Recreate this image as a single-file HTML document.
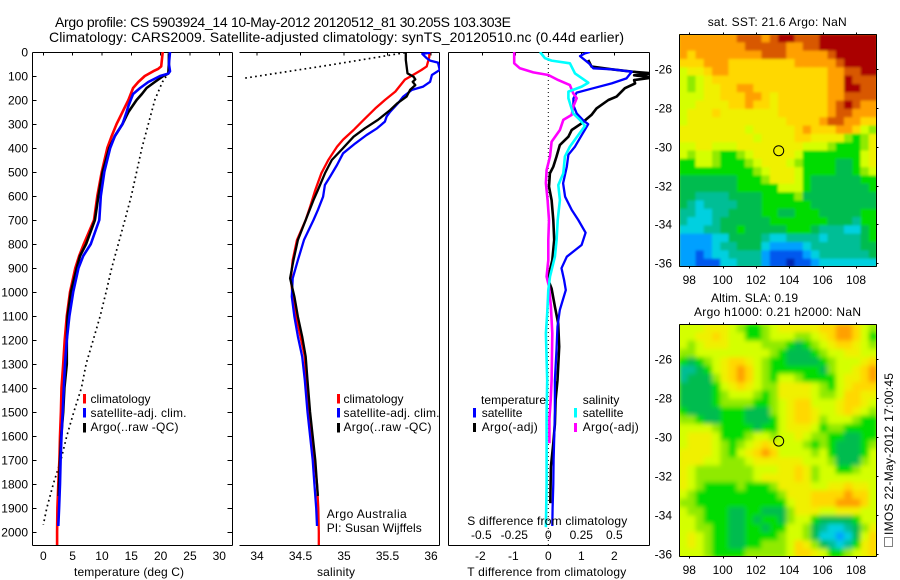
<!DOCTYPE html>
<html>
<head>
<meta charset="utf-8">
<title>Argo profile</title>
<style>
html,body{margin:0;padding:0;background:#fff;}
svg{display:block;}
text{font-family:"Liberation Sans",sans-serif;font-size:12px;fill:#000;}
.ttl{font-size:14px;}
</style>
</head>
<body>
<svg id="fig" xmlns="http://www.w3.org/2000/svg" width="900" height="580" viewBox="0 0 900 580">
<defs>
<clipPath id="c1"><rect x="32" y="52" width="200" height="493"/></clipPath>
<clipPath id="c2"><rect x="239" y="52" width="201" height="493"/></clipPath>
<clipPath id="c3"><rect x="448" y="52" width="201" height="493"/></clipPath>
<clipPath id="cm1"><rect x="679" y="34" width="198" height="233"/></clipPath>
<clipPath id="cm2"><rect x="679" y="324" width="198" height="233"/></clipPath>
<filter id="sstSoft"><feGaussianBlur stdDeviation="1.2"/></filter>
<filter id="slaSoft"><feGaussianBlur stdDeviation="2.4"/></filter>
</defs>
<text class="ttl" x="55" y="27" textLength="456">Argo profile: CS 5903924_14 10-May-2012 20120512_81 30.205S 103.303E</text>
<text class="ttl" x="49" y="42" textLength="575">Climatology: CARS2009. Satellite-adjusted climatology: synTS_20120510.nc (0.44d earlier)</text>

<g id="axes"></g>
<g id="p1" clip-path="url(#c1)"></g>
<g id="p2" clip-path="url(#c2)"></g>
<g id="p3" clip-path="url(#c3)"></g>
<g id="m1">
<rect x="679" y="34" width="198" height="233" fill="#e8f000"/>
<g clip-path="url(#cm1)"><g id="m1cells" filter="url(#sstSoft)"></g></g>
</g>
<g id="m2">
<rect x="679" y="324" width="198" height="233" fill="#d8ff00"/>
<g clip-path="url(#cm2)"><g id="m2cells" filter="url(#slaSoft)"></g></g>
</g>
<g id="frames"></g>

<g>
<rect x="83" y="394" width="3" height="9.5" fill="#f00"/>
<rect x="83" y="408" width="3" height="9.5" fill="#00f"/>
<rect x="83" y="423" width="3" height="9.5" fill="#000"/>
<text x="90.5" y="403">climatology</text>
<text x="90.5" y="417" textLength="96">satellite-adj. clim.</text>
<text x="90.5" y="431" textLength="88">Argo(..raw -QC)</text>
</g>
<g>
<rect x="337" y="394" width="3" height="9.5" fill="#f00"/>
<rect x="337" y="408" width="3" height="9.5" fill="#00f"/>
<rect x="337" y="423" width="3" height="9.5" fill="#000"/>
<text x="343.5" y="403">climatology</text>
<text x="343.5" y="417" textLength="96">satellite-adj. clim.</text>
<text x="343.5" y="431" textLength="88">Argo(..raw -QC)</text>
<text x="326.7" y="518" textLength="80">Argo Australia</text>
<text x="326.7" y="532" textLength="95">PI: Susan Wijffels</text>
</g>
<g>
<text x="481" y="404" textLength="65">temperature</text>
<text x="582.7" y="404">salinity</text>
<rect x="473" y="408" width="3" height="9.5" fill="#00f"/>
<rect x="473" y="423" width="3" height="9" fill="#000"/>
<rect x="574" y="408" width="3" height="9.5" fill="#0ff"/>
<rect x="574" y="423" width="3" height="9" fill="#f0f"/>
<text x="481.7" y="417">satellite</text>
<text x="481.7" y="431" textLength="56">Argo(-adj)</text>
<text x="582.7" y="417">satellite</text>
<text x="582.7" y="431" textLength="56">Argo(-adj)</text>
</g>

<text x="74" y="576" textLength="110">temperature (deg C)</text>
<text x="317" y="576" textLength="38">salinity</text>
<text x="467.3" y="576" textLength="159">T difference from climatology</text>
<text x="467.3" y="525" textLength="160">S difference from climatology</text>

<text x="707.7" y="26" textLength="139">sat. SST: 21.6 Argo: NaN</text>
<text x="711" y="302" textLength="87">Altim. SLA: 0.19</text>
<text x="694" y="316" textLength="167">Argo h1000: 0.21 h2000: NaN</text>

<rect x="884.5" y="537.5" width="8" height="9" fill="#fff" stroke="#000" stroke-width="1" stroke-dasharray="1 1"/>
<text transform="translate(893,535) rotate(-90)" textLength="162">IMOS 22-May-2012 17:00:45</text>
</svg>

<script>
/* ---------- temperature profile data ---------- */
const tempClimDepth = [0,60,70,80,100,125,150,200,250,300,350,400,500,600,700,800,850,900,1000,1100,1200,1300,1400,1500,1600,1700,1800,1900,2000,2054];
const tempClimValues = [20.35,20.1,19.6,18.75,17.3,16.2,15.3,14.5,13.5,12.5,11.65,10.9,9.95,9.2,8.64,6.9,6.1,5.45,4.55,4.0,3.65,3.4,3.1,3.0,2.85,2.75,2.55,2.4,2.35,2.35];
const tempSatDepth = [0,50,80,90,100,125,150,175,200,225,250,300,350,400,500,600,700,800,850,900,1000,1100,1200,1300,1400,1500,1600,1700,1800,1900,1975];
const tempSatValues = [21.6,21.4,21.6,21.3,19.9,17.9,16.5,15.3,14.9,14.5,14.2,13.5,12.2,11.4,10.4,9.8,9.55,8.1,6.8,6.0,5.1,4.45,4.0,3.7,3.5,3.3,3.1,2.95,2.85,2.7,2.55];
const tempArgoDepth = [5,50,90,100,125,150,175,200,250,300,350,400,500,600,700,800,850,900,1000,1100,1200,1300,1400,1500,1600,1700,1800,1850];
const tempArgoValues = [21.4,21.4,21.3,20.45,19,17.6,16.8,15.9,14.5,13.5,12.2,11.25,10.1,9.4,8.8,7.3,6.25,5.7,4.7,4.15,4.0,4.0,3.6,3.4,3.05,2.85,2.7,2.65];
const tempRawDepth = [85,125,200,400,600,700,900,1000,1100,1200,1300,1400,1500,1600,1700,1800,1900,1970];
const tempRawValues = [21.4,20.3,19,16.8,15,13.9,11.65,10.7,9.7,8.5,7.3,6.5,5.2,4,3,1.7,0.6,0];

/* ---------- salinity profile data ---------- */
const salClimDepth = [0,20,60,75,90,115,165,200,235,285,325,365,395,450,505,575,645,700,783,867,943,1019,1103,1186,1269,1400,1500,1600,1700,1800,1900,2000,2054];
const salClimValues = [35.98,35.98,35.95,35.89,35.82,35.70,35.59,35.47,35.36,35.22,35.11,34.99,34.92,34.82,34.74,34.67,34.61,34.56,34.46,34.41,34.39,34.41,34.45,34.5,34.55,34.57,34.60,34.63,34.66,34.69,34.705,34.71,34.71];
const salSatDepth = [3,8,26,36,44,75,96,124,144,158,186,214,249,269,290,318,346,381,422,471,519,554,603,658,700,783,867,943,1019,1103,1186,1269,1367,1500,1600,1700,1800,1900,1975];
const salSatValues = [35.99,35.90,35.95,35.99,36.08,36.10,36.01,35.99,35.91,35.78,35.68,35.62,35.53,35.49,35.47,35.38,35.26,35.13,34.99,34.92,34.84,34.78,34.76,34.70,34.65,34.54,34.47,34.41,34.40,34.43,34.47,34.52,34.55,34.58,34.61,34.64,34.66,34.68,34.69];
const salArgoDepth = [3,33,89,103,114,124,138,158,186,214,242,283,318,353,408,450,506,575,617,700,783,867,943,1019,1103,1186,1269,1367,1500,1600,1700,1800,1850];
const salArgoValues = [35.71,35.71,35.73,35.80,35.82,35.79,35.82,35.76,35.72,35.61,35.53,35.39,35.24,35.11,34.97,34.86,34.78,34.70,34.65,34.56,34.47,34.42,34.38,34.43,34.47,34.52,34.56,34.58,34.61,34.64,34.67,34.69,34.70];
const salRawDepth = [3,54,82,110];
const salRawValues = [35.7,34.84,34.34,33.84];

/* ---------- difference profile data ---------- */
const diffTempSatDepth = [0,6,17,47,68,72,82,110,131,153,169,194,222,256,285,301,347,394,428,478,547,603,658,700,753,804,853,901,950,992,1075,1144,1242,1367,1500,1700,1800,1900,1975];
const diffTempSatValues = [1.26,1.11,0.96,1.23,1.36,1.92,2.53,2.37,1.92,1.31,0.86,0.76,0.76,0.86,1.06,1.21,1.01,0.81,0.61,0.56,0.45,0.51,0.71,0.91,1.13,1.01,0.56,0.40,0.48,0.53,0.35,0.28,0.25,0.20,0.20,0.16,0.15,0.13,0.12];
const diffTempArgoDepth = [33,61,72,82,89,97,106,117,131,151,186,200,235,262,297,325,353,388,436,478,506,561,617,700,783,867,915,950,986,1061,1131,1228,1367,1450,1550,1630,1728,1880];
const diffTempArgoValues = [1.21,1.31,1.92,2.55,3.2,2.6,3.2,2.6,2.63,2.32,2.07,1.82,1.46,1.31,1.01,0.71,0.61,0.35,0.25,0.15,0.05,0.02,0.10,0.15,0.18,0.12,0.04,0,0.10,0.20,0.30,0.33,0.28,0.22,0.20,0.15,0.08,0.06];
const diffSalSatDepth = [0,26,36,47,89,128,144,165,193,228,256,283,308,346,394,436,506,554,617,700,783,853,936,992,1089,1172,1367,1500,1650,1800,1980];
const diffSalSatValues = [-0.063,-0.025,0.025,0.164,0.202,0.303,0.253,0.152,0.152,0.172,0.189,0.24,0.278,0.227,0.164,0.126,0.114,0.076,0.088,0.071,0.063,0.05,0.013,0,-0.008,-0.018,-0.008,-0.013,-0.013,-0.013,-0.018];
const diffSalArgoDepth = [0,47,68,85,96,117,138,172,193,228,262,283,325,374,436,492,547,617,700,783,867,936,978,1061,1172,1367,1450,1530,1630];
const diffSalArgoValues = [-0.258,-0.258,-0.215,-0.114,0,0.076,0.164,0.189,0.215,0.189,0.177,0.114,0.088,0.025,0.013,-0.013,-0.018,-0.005,0.005,0,0,-0.013,0.005,0.02,0.03,0.025,0.018,0.008,0.008];

/* ---------- tick labels ---------- */
const depthTicks = [0,100,200,300,400,500,600,700,800,900,1000,1100,1200,1300,1400,1500,1600,1700,1800,1900,2000];
const tempTicks = [0,5,10,15,20,25,30];
const salTicks = [34,34.5,35,35.5,36];
const tDiffTicks = [-2,-1,0,1,2];
const sDiffTicks = [-0.5,-0.25,0,0.25,0.5];
const sDiffTickLabels = ["-0.5","-0.25","0","0.25","0.5"];
const lonTicks = [98,100,102,104,106,108];
const latTicks = [26,28,30,32,34,36];
const argoLon = [103.303];
const argoLat = [30.205];

/* ---------- map values, colour level per grid cell ---------- */
const sstRows = [
[11,11,11,11,11,11,11,12,12,12,11,12,13,13,12,12,12,13,13,13,13,13,13,13],
[11,11,11,11,11,11,11,11,12,12,12,12,12,11,11,12,12,13,13,13,13,13,13,13],
[11,10,11,11,11,11,11,11,11,11,12,12,12,11,11,11,11,11,12,13,13,13,13,13],
[10,10,10,11,11,11,10,10,10,10,10,10,10,10,11,11,11,11,11,12,13,13,13,13],
[8,9,9,10,11,11,10,10,10,10,10,10,10,10,10,10,10,10,11,11,12,12,13,13],
[8,7,8,9,10,10,10,10,10,10,10,10,10,10,10,10,10,10,11,11,13,12,12,12],
[8,7,8,9,9,10,10,11,11,10,10,10,10,10,10,10,10,10,11,11,13,13,12,12],
[8,8,8,9,9,10,10,10,11,11,10,9,10,10,10,10,10,10,11,11,12,12,12,12],
[8,8,9,9,9,9,10,10,11,10,10,9,10,10,10,10,10,10,11,12,13,12,11,11],
[8,9,9,9,10,9,9,9,9,9,9,9,10,10,10,10,10,10,11,12,12,11,11,11],
[8,9,9,9,9,9,9,9,9,9,9,9,9,10,10,10,10,11,12,12,11,11,10,10],
[9,9,9,9,9,9,9,9,8,9,9,9,9,9,10,11,10,10,10,11,11,10,8,7],
[9,9,9,9,9,9,9,9,9,8,9,9,9,9,10,10,9,9,9,9,7,6,7,9],
[8,8,9,9,8,8,8,9,9,9,9,9,9,9,9,8,8,8,7,6,6,6,7,9],
[8,7,8,8,7,6,6,7,8,9,9,9,9,9,8,6,6,6,6,6,6,6,8,9],
[6,6,8,8,7,6,6,6,7,8,9,9,9,8,7,6,6,6,6,5,5,6,8,9],
[6,6,6,6,6,6,6,6,6,7,8,9,9,9,8,6,6,6,6,5,5,6,7,8],
[5,5,5,5,5,5,5,6,6,6,7,9,9,9,8,6,5,5,5,5,5,5,6,6],
[5,5,5,5,5,5,5,6,6,6,6,6,8,8,8,6,5,5,5,5,5,5,5,6],
[5,5,4,4,4,4,5,5,5,5,6,6,6,6,7,5,5,5,5,5,5,5,5,5],
[5,4,3,4,4,4,4,5,5,5,6,6,6,6,6,6,5,5,5,5,5,5,5,5],
[4,4,3,3,4,4,5,5,5,5,6,6,5,5,6,6,6,5,5,5,5,5,6,6],
[4,3,3,3,4,5,5,5,5,5,5,6,6,6,6,6,6,6,5,5,5,4,6,6],
[3,3,3,4,4,5,5,6,5,5,5,5,5,6,6,6,5,4,4,4,3,3,5,6],
[2,2,2,2,3,3,5,5,5,5,4,3,3,4,4,4,4,3,4,4,4,4,5,6],
[2,2,2,2,3,4,4,5,5,5,3,2,2,2,2,3,4,4,4,4,4,4,5,5],
[2,2,1,2,3,3,4,4,4,4,2,1,1,1,1,2,3,4,4,4,4,4,4,5],
[2,2,1,1,1,3,3,4,4,4,2,1,1,0,1,1,2,3,3,3,3,3,3,3]
];
const slaRows = [
[8,8,8,9,9,9,8,7,6,6,7,8,9,9,9,9,9,10,10,11,11,10,8,7],
[8,8,9,9,10,9,8,8,6,6,7,8,8,8,7,7,8,9,10,11,11,10,8,6],
[8,7,8,9,9,9,8,8,8,8,7,7,7,6,5,6,7,8,9,10,10,9,8,7],
[7,7,8,8,8,8,8,8,8,8,8,7,6,5,5,5,6,7,8,8,9,9,8,8],
[6,5,6,7,8,9,10,10,9,8,7,6,6,5,5,5,5,6,7,8,8,8,9,10],
[4,4,5,6,8,9,10,11,10,8,7,6,6,6,6,6,6,5,7,8,8,9,10,11],
[4,5,5,5,7,9,10,11,10,8,7,6,8,8,7,6,6,6,6,8,9,9,10,11],
[5,5,5,5,6,8,9,10,9,8,7,7,9,9,9,9,8,7,6,8,9,10,10,10],
[5,5,5,5,6,7,8,8,8,7,6,7,9,9,9,9,8,7,7,8,10,10,9,9],
[5,5,5,5,6,7,7,7,7,6,6,7,8,9,10,10,8,8,8,9,10,10,9,8],
[6,5,5,5,5,6,6,6,5,5,5,7,8,9,10,10,9,8,8,9,10,9,8,7],
[7,7,6,5,5,6,6,6,5,5,5,6,8,9,10,10,9,7,8,8,8,7,6,6],
[8,8,8,8,7,6,6,6,6,5,6,6,8,9,9,9,8,6,7,7,6,6,6,6],
[8,9,9,9,8,6,6,6,7,8,8,7,8,8,9,8,7,7,6,6,5,5,6,6],
[8,9,9,9,8,7,6,7,8,9,10,9,8,8,8,7,6,7,6,5,5,5,6,7],
[9,9,9,9,8,7,6,8,9,10,11,10,8,8,8,8,7,8,6,5,5,5,6,8],
[9,9,9,8,8,7,7,7,8,9,9,9,9,9,9,8,8,8,7,5,5,5,7,8],
[9,8,7,7,7,7,7,7,7,8,8,8,9,9,10,9,7,8,8,6,6,7,8,8],
[9,8,7,7,7,7,7,7,7,8,9,9,9,9,10,9,7,8,8,8,8,8,8,8],
[9,8,7,6,6,6,6,7,6,6,6,7,9,9,9,9,8,8,9,9,10,9,9,8],
[8,7,6,6,6,6,6,6,6,6,6,6,7,9,9,9,10,10,10,10,11,10,10,8],
[7,7,6,6,6,6,6,6,6,6,6,6,6,8,9,9,10,10,10,11,11,11,10,8],
[8,7,7,6,6,6,5,5,6,6,5,5,5,7,9,9,9,8,8,9,9,9,8,8],
[8,8,7,6,6,6,5,5,6,5,6,6,5,7,8,8,6,5,5,5,5,6,8,8],
[8,8,7,7,6,6,5,5,6,6,5,6,6,8,8,7,5,4,3,3,4,5,7,9],
[8,9,8,7,6,6,5,5,6,6,6,6,7,8,8,7,5,3,3,2,3,5,8,10],
[8,9,8,7,6,6,5,5,6,6,7,7,7,8,10,9,7,5,4,3,4,6,9,10],
[8,8,8,7,6,6,6,6,7,7,7,7,7,8,10,10,9,8,6,6,7,8,9,10]
];

/* ---------- scales ---------- */
const depthY = d => 52 + d * 0.24;
const tempX = t => 43.3 + t * 5.867;
const salX = s => 257 + (s - 34) * 87;
const tDiffX = t => 548.3 + t * 33;
const sDiffX = s => 548.3 + s * 132;
const lonX = l => 689.3 + (l - 98) * 16.67;
const map1LatY = l => 69 + (l - 26) * 19.43;
const map2LatY = l => 359 + (l - 26) * 19.53;

const NS = "http://www.w3.org/2000/svg";
const palette = ["#0028b4","#0058ee","#00a0ff","#00d0e0","#00be96","#00bc50","#00dc00","#90ea00","#d4ff00","#f0f000","#ffd800","#ffa000","#d85800","#aa0000"];

function drawLine(parent, name, depths, values, xFn, color, width, dash) {
  const el = document.createElementNS(NS, "polyline");
  
  
  el.setAttribute("points", depths.map((d, i) => xFn(values[i]).toFixed(1) + "," + depthY(d).toFixed(1)).join(" "));
  el.setAttribute("fill", "none");
  el.setAttribute("stroke", color);
  el.setAttribute("stroke-width", width);
  el.setAttribute("stroke-linejoin", "round");
  if (dash) el.setAttribute("stroke-dasharray", dash);
  parent.appendChild(el);
}

function drawRule(parent, name, x1, y1, x2, y2) {
  const el = document.createElementNS(NS, "line");
  
  
  el.setAttribute("x1", x1);
  el.setAttribute("y1", y1);
  el.setAttribute("x2", x2);
  el.setAttribute("y2", y2);
  el.setAttribute("stroke", "#000");
  el.setAttribute("stroke-width", 1);
  el.setAttribute("shape-rendering", "crispEdges");
  parent.appendChild(el);
}

function drawLabel(parent, name, x, y, str, anchor) {
  const el = document.createElementNS(NS, "text");
  
  
  el.setAttribute("x", x);
  el.setAttribute("y", y);
  el.setAttribute("text-anchor", anchor);
  el.textContent = str;
  parent.appendChild(el);
}

function drawHeatmap(parent, rows, left, top, width, height) {
  const cw = width / rows[0].length;
  const ch = height / rows.length;
  rows.forEach((row, r) => row.forEach((v, c) => {
    const el = document.createElementNS(NS, "rect");
    
    
    el.setAttribute("x", (left + c * cw).toFixed(2));
    el.setAttribute("y", (top + r * ch).toFixed(2));
    el.setAttribute("width", (cw + 0.6).toFixed(2));
    el.setAttribute("height", (ch + 0.6).toFixed(2));
    el.setAttribute("fill", palette[Math.max(0, Math.min(13, Math.round(v)))]);
    parent.appendChild(el);
  }));
}

function drawMarker(parent, cx, cy) {
  const el = document.createElementNS(NS, "circle");
  
  
  el.setAttribute("cx", cx);
  el.setAttribute("cy", cy);
  el.setAttribute("r", 5);
  el.setAttribute("fill", "none");
  el.setAttribute("stroke", "#000");
  el.setAttribute("stroke-width", 1);
  parent.appendChild(el);
}

const axes = document.getElementById("axes");
const frames = document.getElementById("frames");

/* temperature panel */
const p1 = document.getElementById("p1");
drawLine(p1, "temperature-argo-raw-line", tempRawDepth, tempRawValues, tempX, "#000", 1.7, "1.7 3.3");
drawLine(p1, "temperature-climatology-line", tempClimDepth, tempClimValues, tempX, "#f00", 2.6);
drawLine(p1, "temperature-argo-line", tempArgoDepth, tempArgoValues, tempX, "#000", 2.6);
drawLine(p1, "temperature-satellite-line", tempSatDepth, tempSatValues, tempX, "#00f", 2.6);

/* salinity panel */
const p2 = document.getElementById("p2");
drawLine(p2, "salinity-argo-raw-line", salRawDepth, salRawValues, salX, "#000", 1.7, "1.7 3.3");
drawLine(p2, "salinity-climatology-line", salClimDepth, salClimValues, salX, "#f00", 2.3);
drawLine(p2, "salinity-satellite-line", salSatDepth, salSatValues, salX, "#00f", 2.3);
drawLine(p2, "salinity-argo-line", salArgoDepth, salArgoValues, salX, "#000", 2.3);

/* difference panel */
const p3 = document.getElementById("p3");
const zero = document.createElementNS(NS, "line");


zero.setAttribute("x1", tDiffX(0));
zero.setAttribute("x2", tDiffX(0));
zero.setAttribute("y1", 52);
zero.setAttribute("y2", 545);
zero.setAttribute("stroke", "#000");
zero.setAttribute("stroke-width", 1);
zero.setAttribute("stroke-dasharray", "1 3");
p3.appendChild(zero);
drawLine(p3, "difference-temp-argo-line", diffTempArgoDepth, diffTempArgoValues, tDiffX, "#000", 2.6);
drawLine(p3, "difference-temp-satellite-line", diffTempSatDepth, diffTempSatValues, tDiffX, "#00f", 2.3);
drawLine(p3, "difference-sal-argo-line", diffSalArgoDepth, diffSalArgoValues, sDiffX, "#f0f", 2.6);
drawLine(p3, "difference-sal-satellite-line", diffSalSatDepth, diffSalSatValues, sDiffX, "#0ff", 2.6);

/* axis frames */
const L1 = 32.5, R1 = 232.5, L2 = 239.5, R2 = 439.5, L3 = 448.5, R3 = 649.5, T = 52.5, B = 545.5;
drawRule(axes, "temperature-axis-top", L1, T, R1, T);
drawRule(axes, "temperature-axis-bottom", L1, B, R1, B);
drawRule(axes, "temperature-axis-left", L1, T, L1, B);
drawRule(axes, "temperature-axis-right", R1, T, R1, B);
drawRule(axes, "salinity-axis-top", L2, T, R2, T);
drawRule(axes, "salinity-axis-bottom", L2, B, R2, B);
drawRule(axes, "salinity-axis-right", R2, T, R2, B);
drawRule(axes, "difference-axis-top", L3, T, R3, T);
drawRule(axes, "difference-axis-bottom", L3, B, R3 , B);
drawRule(axes, "difference-axis-left", L3, T, L3, B);
drawRule(axes, "difference-axis-right", R3, T, R3, B);

depthTicks.forEach(d => {
  const y = Math.round(depthY(d)) + 0.5;
  drawRule(axes, "depth-tick-left", L1, y, L1 + 4, y);
  drawRule(axes, "depth-tick-right", R1 - 5, y, R1, y);
  drawLabel(axes, "depth-tick-label", 28, y + 4, String(d), "end");
});
tempTicks.forEach(t => {
  drawRule(axes, "temperature-tick", tempX(t), T, tempX(t), T + 3);
  drawLabel(axes, "temperature-tick-label", tempX(t), 560, String(t), "middle");
});
salTicks.forEach(s => {
  drawRule(axes, "salinity-tick", salX(s), T, salX(s), T + 3);
  drawLabel(axes, "salinity-tick-label", salX(s), 560, String(s), "middle");
});
tDiffTicks.forEach(t => {
  drawRule(axes, "t-difference-tick", tDiffX(t), T, tDiffX(t), T + 3);
  drawLabel(axes, "t-difference-tick-label", tDiffX(t) - (t < 0 ? 2 : 0), 560, String(t), "middle");
});
sDiffTicks.forEach((s, i) => {
  drawLabel(axes, "s-difference-tick-label", sDiffX(s) - (s < 0 ? 1 : 0), 539, sDiffTickLabels[i], "middle");
});

/* maps */
const MAPL = 679, MAPW = 198;
const m1 = document.getElementById("m1");
const m2 = document.getElementById("m2");
drawHeatmap(document.getElementById("m1cells"), sstRows, MAPL, 34, MAPW, 233);
drawHeatmap(document.getElementById("m2cells"), slaRows, MAPL, 324, MAPW, 233);
argoLon.forEach((lon, i) => {
  drawMarker(m1, lonX(lon) + 1, map1LatY(argoLat[i]));
  drawMarker(m2, lonX(lon) + 1, map2LatY(argoLat[i]));
});

[[34.5, 266.5, map1LatY, "sst"], [324.5, 556.5, map2LatY, "sla"]].forEach(cfg => {
  const top = cfg[0], bot = cfg[1], yFn = cfg[2];
  const l = 679.5, r = 876.5;
  drawRule(frames, "map-frame-top", l, top, r, top);
  drawRule(frames, "map-frame-bottom", l, bot, r, bot);
  drawRule(frames, "map-frame-left", l, top, l, bot);
  drawRule(frames, "map-frame-right", r, top, r, bot);
  lonTicks.forEach(lon => {
    const x = Math.round(lonX(lon)) + 0.5;
    drawRule(frames, "map-lon-tick-top", x, top - 2, x, top);
    drawRule(frames, "map-lon-tick-bottom", x, bot, x, bot + 2);
    drawLabel(frames, "map-lon-tick-label", lonX(lon), bot + 17.5, String(lon), "middle");
  });
  latTicks.forEach(lat => {
    const y = Math.round(yFn(lat)) + 0.5;
    drawRule(frames, "map-lat-tick-right", r, y, r + 2, y);
    drawLabel(frames, "map-lat-tick-label", 672, y + 4, "-" + lat, "end");
  });
});
</script>
</body>
</html>
